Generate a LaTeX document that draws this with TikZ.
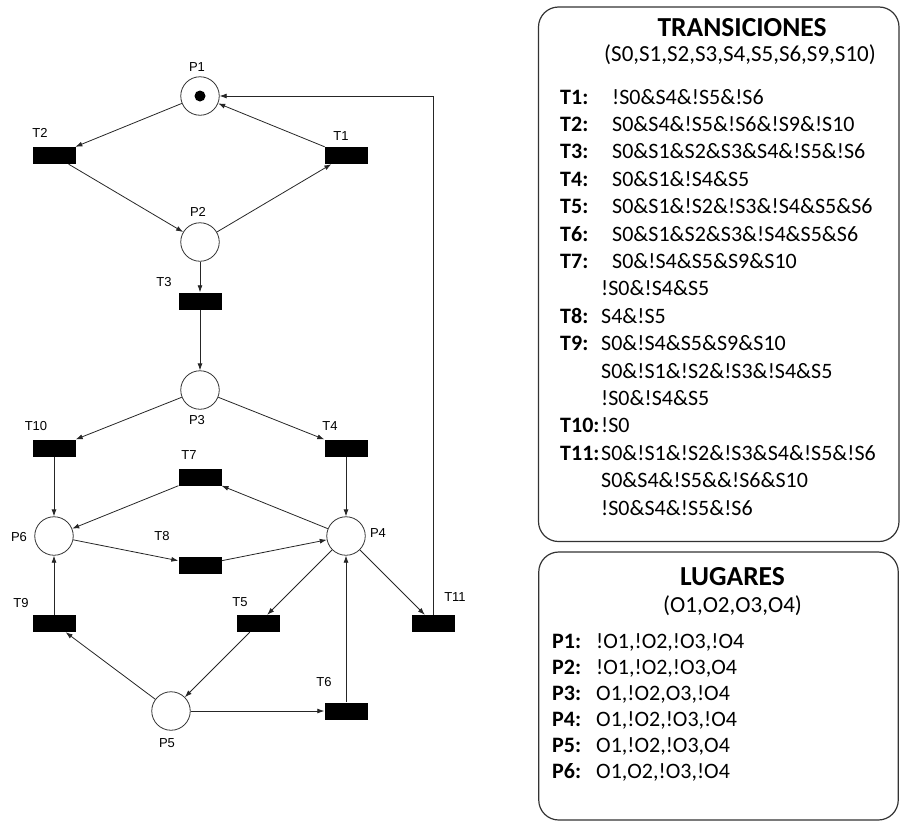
\documentclass[tikz,border=0pt]{standalone}
\usepackage{fontspec}
\setmainfont{Carlito}
\newfontfamily\netfont{Liberation Sans}
\usetikzlibrary{arrows.meta}
\begin{document}
\begin{tikzpicture}[x=1pt,y=-1pt,
  place/.style={circle, draw=black!80, line width=0.8pt, minimum size=38.5pt, inner sep=0pt},
  trans/.style={rectangle, fill=black, minimum width=43pt, minimum height=17pt, inner sep=0pt},
  lbl/.style={font=\netfont\fontsize{13}{15}\selectfont, inner sep=0pt},
  flow/.style={-{Latex[length=7pt,width=5pt]}, line width=0.8pt, draw=black!85},
  panel/.style={draw=black!80, line width=1.2pt, rounded corners=20pt, inner sep=0pt},
  head/.style={font=\bfseries\fontsize{27.5}{32}\selectfont, inner sep=0pt},
  sub/.style={font=\fontsize{23}{27}\selectfont, inner sep=0pt},
  key/.style={font=\bfseries\fontsize{22}{26}\selectfont, anchor=base west, inner sep=0pt},
  expr/.style={font=\fontsize{22}{26}\selectfont, anchor=base west, inner sep=0pt}]
\useasboundingbox (0,0) rectangle (901,822);

% places
\node[place] (P1) at (200,96) {};
\node[place] (P2) at (200,242) {};
\node[place] (P3) at (200,390) {};
\node[place] (P4) at (346,536) {};
\node[place] (P5) at (171,711) {};
\node[place] (P6) at (54,536) {};
\node[circle, fill=black, minimum size=11pt, inner sep=0pt] (tok) at (P1) {};

% transitions
\node[trans] (T1) at (346,155.5) {};
\node[trans] (T2) at (54,155.5) {};
\node[trans] (T3) at (200,301) {};
\node[trans] (T4) at (346,448) {};
\node[trans] (T5) at (258.5,623.5) {};
\node[trans] (T6) at (346,711) {};
\node[trans] (T7) at (200,477) {};
\node[trans] (T8) at (200,565) {};
\node[trans] (T9) at (54,623.5) {};
\node[trans] (T10) at (54,448) {};
\node[trans] (T11) at (433.5,623.5) {};

% labels
\node[lbl] (lP1) at (197,67) {P1};
\node[lbl] (lP2) at (198,212) {P2};
\node[lbl] (lP3) at (197,420) {P3};
\node[lbl] (lP4) at (378,533) {P4};
\node[lbl] (lP5) at (167,743) {P5};
\node[lbl] (lP6) at (19,537) {P6};
\node[lbl] (lT1) at (341,136) {T1};
\node[lbl] (lT2) at (40,133) {T2};
\node[lbl] (lT3) at (164,282) {T3};
\node[lbl] (lT4) at (330,426) {T4};
\node[lbl] (lT5) at (240,602) {T5};
\node[lbl] (lT6) at (324,682) {T6};
\node[lbl] (lT7) at (189,455) {T7};
\node[lbl] (lT8) at (162,536) {T8};
\node[lbl] (lT9) at (21,603) {T9};
\node[lbl] (lT10) at (36,426) {T10};
\node[lbl] (lT11) at (455,597) {T11};

% arcs
\draw[flow] (P1) -- (T2);
\draw[flow] (T1) -- (P1);
\draw[flow] (T2) -- (P2);
\draw[flow] (P2) -- (T1);
\draw[flow] (P2) -- (T3);
\draw[flow] (T3) -- (P3);
\draw[flow] (P3) -- (T10);
\draw[flow] (P3) -- (T4);
\draw[flow] (T10) -- (P6);
\draw[flow] (T4) -- (P4);
\draw[flow] (P4) -- (T7);
\draw[flow] (T7) -- (P6);
\draw[flow] (P6) -- (T8);
\draw[flow] (T8) -- (P4);
\draw[flow] (P4) -- (T5);
\draw[flow] (T5) -- (P5);
\draw[flow] (P5) -- (T9);
\draw[flow] (T9) -- (P6);
\draw[flow] (P5) -- (T6);
\draw[flow] (T6) -- (P4);
\draw[flow] (P4) -- (T11);
\draw[flow] (T11.north) |- (P1.east);

% transition conditions panel
\node[panel, minimum width=360.5pt, minimum height=534.5pt] (tbox) at (718.75,274.25) {};
\node[head] (th) at (742,28) {TRANSICIONES};
\node[sub] (ts) at (740,55) {(S0,S1,S2,S3,S4,S5,S6,S9,S10)};
\node[key] at (560,104) {T1:};   \node[expr] at (612,104) {!S0\&S4\&!S5\&!S6};
\node[key] at (560,131.4) {T2:}; \node[expr] at (612,131.4) {S0\&S4\&!S5\&!S6\&!S9\&!S10};
\node[key] at (560,158.8) {T3:}; \node[expr] at (612,158.8) {S0\&S1\&S2\&S3\&S4\&!S5\&!S6};
\node[key] at (560,186.2) {T4:}; \node[expr] at (612,186.2) {S0\&S1\&!S4\&S5};
\node[key] at (560,213.6) {T5:}; \node[expr] at (612,213.6) {S0\&S1\&!S2\&!S3\&!S4\&S5\&S6};
\node[key] at (560,241) {T6:};   \node[expr] at (612,241) {S0\&S1\&S2\&S3\&!S4\&S5\&S6};
\node[key] at (560,268.4) {T7:}; \node[expr] at (612,268.4) {S0\&!S4\&S5\&S9\&S10};
\node[expr] at (601,295.8) {!S0\&!S4\&S5};
\node[key] at (560,323.2) {T8:}; \node[expr] at (601,323.2) {S4\&!S5};
\node[key] at (560,350.6) {T9:}; \node[expr] at (601,350.6) {S0\&!S4\&S5\&S9\&S10};
\node[expr] at (601,378) {S0\&!S1\&!S2\&!S3\&!S4\&S5};
\node[expr] at (601,405.4) {!S0\&!S4\&S5};
\node[key] at (560,432.8) {T10:}; \node[expr] at (601,432.8) {!S0};
\node[key] at (560,460.2) {T11:}; \node[expr] at (601,460.2) {S0\&!S1\&!S2\&!S3\&S4\&!S5\&!S6};
\node[expr] at (601,487.6) {S0\&S4\&!S5\&\&!S6\&S10};
\node[expr] at (601,515) {!S0\&S4\&!S5\&!S6};

% place outputs panel
\node[panel, minimum width=359.5pt, minimum height=268pt] (pbox) at (718.5,686) {};
\node[head] (ph) at (732.5,577) {LUGARES};
\node[sub] (ps) at (732.5,606) {(O1,O2,O3,O4)};
\node[key] at (552,648.5) {P1:}; \node[expr] at (596,648.5) {!O1,!O2,!O3,!O4};
\node[key] at (552,674.5) {P2:}; \node[expr] at (596,674.5) {!O1,!O2,!O3,O4};
\node[key] at (552,700.5) {P3:}; \node[expr] at (596,700.5) {O1,!O2,O3,!O4};
\node[key] at (552,726.5) {P4:}; \node[expr] at (596,726.5) {O1,!O2,!O3,!O4};
\node[key] at (552,752.5) {P5:}; \node[expr] at (596,752.5) {O1,!O2,!O3,O4};
\node[key] at (552,778.5) {P6:}; \node[expr] at (596,778.5) {O1,O2,!O3,!O4};
\end{tikzpicture}
\end{document}
